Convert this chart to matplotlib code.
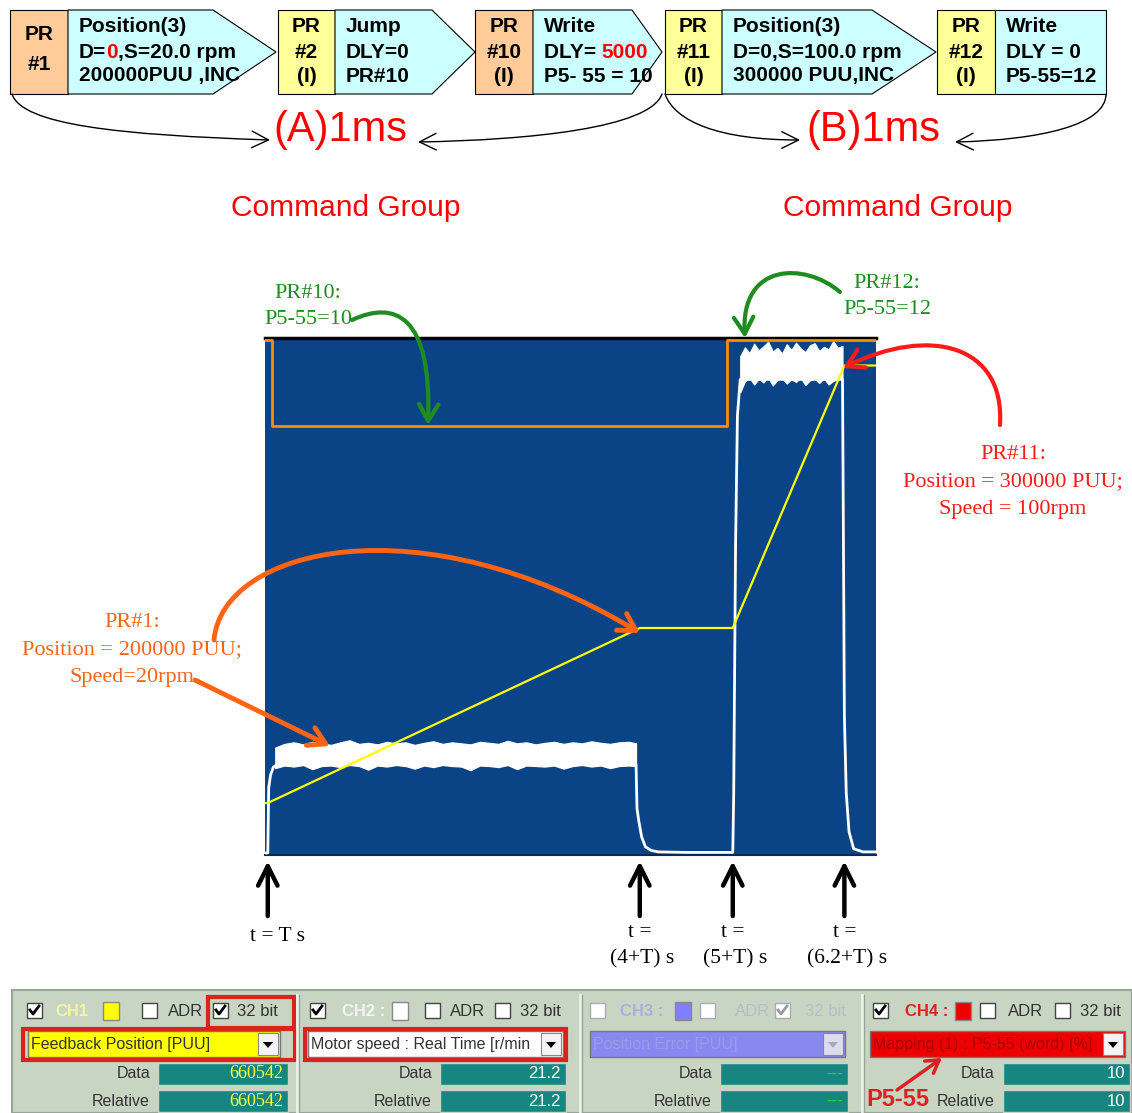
import numpy as np
import matplotlib.pyplot as plt
from matplotlib.patches import FancyArrowPatch, Rectangle, Polygon
from matplotlib.path import Path

# 図の大きさ (px)
W, H = 1132, 1113

# 上段のPRブロック
pr_labels = [["PR", "#1"], ["PR", "#2", "(I)"], ["PR", "#10", "(I)"], ["PR", "#11", "(I)"], ["PR", "#12", "(I)"]]
pr_colors = ["#ffcc99", "#ffff99", "#ffcc99", "#ffff99", "#ffff99"]
pr_texts = [
    [[("Position(3)", "k")], [("D=", "k"), ("0", "red"), (",S=20.0 rpm", "k")], [("200000PUU ,INC", "k")]],
    [[("Jump", "k")], [("DLY=0", "k")], [("PR#10", "k")]],
    [[("Write", "k")], [("DLY= ", "k"), ("5000", "red")], [("P5- 55 = 10", "k")]],
    [[("Position(3)", "k")], [("D=0,S=100.0 rpm", "k")], [("300000 PUU,INC", "k")]],
    [[("Write", "k")], [("DLY = 0", "k")], [("P5-55=12", "k")]],
]
# ブロックの位置 (左, 区切り, 斜め開始, 先端)
block_x = [(10, 68, 213, 276), (278, 335, 432, 475), (475, 533, 632, 662), (665, 722, 872, 936), (937, 995, 1106, 1106)]

# スコープのデータ (時間 s, T=0)
t_marks = [0.0, 4.0, 5.0, 6.2]
t_mark_labels = [["t = T s"], ["t =", "(4+T) s"], ["t =", "(5+T) s"], ["t =", "(6.2+T) s"]]

speed_t = [-0.03, 0.0, 0.01, 0.03, 0.06, 0.1, 3.96, 3.97, 3.99, 4.02, 4.06, 4.12, 4.2, 4.5,
           4.98, 5.0, 5.01, 5.03, 5.05, 5.08, 6.18, 6.19, 6.2, 6.22, 6.25, 6.3, 6.4, 6.54]
speed_v = [0.4, 0.4, 13.0, 15.5, 17.0, 17.5, 17.5, 9.0, 6.5, 3.5, 1.6, 0.9, 0.6, 0.5,
           0.5, 0.5, 12.0, 60.0, 85.0, 92.0, 92.0, 60.0, 27.0, 12.0, 4.5, 1.2, 0.6, 0.6]

band1_t = [0.08, 0.18, 0.28, 0.38, 0.48, 0.58, 0.68, 0.78, 0.88, 0.98, 1.08, 1.18, 1.28, 1.38,
           1.48, 1.58, 1.68, 1.78, 1.88, 1.98, 2.08, 2.18, 2.28, 2.38, 2.48, 2.58, 2.68, 2.78,
           2.88, 2.98, 3.08, 3.18, 3.28, 3.38, 3.48, 3.58, 3.68, 3.78, 3.88, 3.96]
band1_hi = [20.8, 21.5, 21.8, 21.4, 21.9, 21.6, 21.3, 21.8, 22.2, 21.5, 21.7, 21.4, 21.9, 21.6,
            21.8, 21.3, 21.7, 22.0, 21.5, 21.8, 21.6, 21.4, 21.9, 21.7, 21.5, 22.1, 21.6, 21.8,
            21.4, 21.7, 21.9, 21.5, 21.8, 21.6, 22.0, 21.7, 21.5, 21.8, 21.9, 21.6]
band1_lo = [16.8, 17.3, 17.1, 17.4, 16.6, 17.2, 17.3, 17.0, 17.4, 17.2, 16.5, 17.3, 17.1, 17.4,
            17.2, 16.7, 17.3, 17.0, 17.4, 17.2, 17.1, 16.4, 17.3, 17.2, 17.0, 17.4, 16.6, 17.3,
            17.2, 17.1, 17.3, 16.7, 17.2, 17.4, 17.1, 17.3, 16.8, 17.2, 17.3, 17.2]

band2_t = [5.08, 5.13, 5.18, 5.23, 5.28, 5.33, 5.38, 5.43, 5.48, 5.53, 5.58, 5.63, 5.68, 5.73,
           5.78, 5.83, 5.88, 5.93, 5.98, 6.03, 6.08, 6.13, 6.18]
band2_hi = [96.5, 98.2, 97.1, 98.9, 97.6, 98.4, 99.3, 97.4, 98.1, 97.0, 98.8, 97.7, 99.1, 98.0,
            97.3, 98.6, 99.0, 97.5, 98.3, 97.8, 99.4, 98.1, 98.5]
band2_lo = [89.5, 91.6, 92.3, 91.0, 92.1, 91.4, 92.4, 90.8, 91.9, 92.2, 91.2, 92.0, 91.5, 92.3,
            90.9, 91.8, 92.1, 91.3, 92.2, 91.0, 91.7, 92.0, 92.3]

pos_t = [-0.03, 0.0, 4.0, 5.0, 6.2, 6.54]
pos_v = [160542, 160542, 360542, 360542, 660542, 660542]

p555_t = [-0.03, 0.04, 4.94, 6.54]
p555_v = [12, 10, 12, 12]

# 下段のチャンネルパネル
ch_names = ["CH1", "CH2 :", "CH3 :", "CH4 :"]
ch_sources = ["Feedback Position [PUU]", "Motor speed : Real Time [r/min", "Position Error [PUU]",
              "Mapping (1) : P5-55 (word) [%]"]
ch_data = ["660542", "21.2", "---", "10"]
ch_relative = ["660542", "21.2", "---", "10"]

SANS = "Liberation Sans"
SERIF = "Liberation Serif"

fig = plt.figure(figsize=(W / 100, H / 100), dpi=100)
fig.patch.set_facecolor("white")

# スコープ
L, R, TOP, BOT = 265, 876, 338, 855
ax = fig.add_axes([L / W, 1 - BOT / H, (R - L) / W, (BOT - TOP) / H])
ax.set_facecolor("#0a4486")
ax.set_xlim(-0.03, 6.54)
ax.set_ylim(0, 100)
ax.set_xticks([])
ax.set_yticks([])
for s in ["left", "right"]:
    ax.spines[s].set_visible(False)
ax.spines["top"].set_color("black")
ax.spines["top"].set_linewidth(2.5)
ax.spines["bottom"].set_color("#0a2a55")
ax.spines["bottom"].set_linewidth(1.5)

ax.fill_between(band1_t, band1_lo, band1_hi, color="white", lw=0.8, zorder=3)
ax.fill_between(band2_t, band2_lo, band2_hi, color="white", lw=0.8, zorder=3)
ax.plot(speed_t, speed_v, color="white", lw=2, zorder=3)

ax_pos = ax.twinx()
ax_pos.set_ylim(101113, 691971)
ax_pos.plot(pos_t, pos_v, color="#ffff00", lw=1.6, zorder=4)
ax_pos.axis("off")

ax_p = ax.twinx()
ax_p.set_ylim(0, 12.05)
ax_p.plot(p555_t, p555_v, color="#ff8c00", lw=2, drawstyle="steps-post", zorder=2)
ax_p.axis("off")

# 時間マーカー
for t, lab in zip(t_marks, t_mark_labels):
    ax.annotate("", xy=(t, -0.012), xytext=(t, -0.118), xycoords=ax.get_xaxis_transform(),
                textcoords=ax.get_xaxis_transform(), annotation_clip=False,
                arrowprops=dict(arrowstyle="->,head_length=0.7,head_width=0.35", lw=3.2, color="black",
                                shrinkA=0, shrinkB=0, mutation_scale=20))
    if len(lab) == 1:
        ax.text(t + 0.1, -0.158, lab[0], transform=ax.get_xaxis_transform(), ha="center", va="center",
                fontsize=15.5, family=SERIF)
    else:
        ax.text(t, -0.149, lab[0], transform=ax.get_xaxis_transform(), ha="center", va="center",
                fontsize=15.5, family=SERIF)
        ax.text(t + 0.03, -0.2, lab[1], transform=ax.get_xaxis_transform(), ha="center", va="center",
                fontsize=15.5, family=SERIF)

# 重ね描き用の座標 (px)
ov = fig.add_axes([0, 0, 1, 1], zorder=10)
ov.set_xlim(0, W)
ov.set_ylim(H, 0)
ov.axis("off")
ov.patch.set_alpha(0)


def bez(pts, color, lw, head="->,head_length=0.6,head_width=0.35", ms=20):
    # 3次ベジェ曲線の矢印
    path = Path(pts, [Path.MOVETO, Path.CURVE4, Path.CURVE4, Path.CURVE4])
    ov.add_patch(FancyArrowPatch(path=path, arrowstyle=head, color=color, lw=lw, mutation_scale=ms,
                                 capstyle="round"))


def line_arrow(p0, p1, color, lw, head="->,head_length=0.6,head_width=0.35", ms=20):
    ov.add_patch(FancyArrowPatch(p0, p1, arrowstyle=head, color=color, lw=lw, mutation_scale=ms,
                                 shrinkA=0, shrinkB=0))


# PRブロック
for (x0, x1, x2, x3), labs, col, lines in zip(block_x, pr_labels, pr_colors, pr_texts):
    ov.add_patch(Rectangle((x0, 10), x1 - x0, 84, fc=col, ec="black", lw=0.8))
    if x3 > x2:
        ov.add_patch(Polygon([(x1, 10), (x2, 10), (x3, 52), (x2, 94), (x1, 94)], fc="#ccffff", ec="black", lw=0.8))
    else:
        ov.add_patch(Rectangle((x1, 10), x3 - x1, 84, fc="#ccffff", ec="black", lw=0.8))
    ys = [35, 64] if len(labs) == 2 else [27, 52, 77]
    for lab, y in zip(labs, ys):
        ov.text((x0 + x1) / 2, y, lab, ha="center", va="center", fontsize=15, weight="bold", family=SANS)
    for line, y in zip(lines, [27, 52, 76]):
        prev = None
        for piece, c in line:
            if prev is None:
                prev = ov.text(x1 + 11, y, piece, ha="left", va="center", fontsize=15, weight="bold",
                               family=SANS, color=c)
            else:
                prev = ov.annotate(piece, xy=(1, 0), xycoords=prev, ha="left", va="bottom", fontsize=15,
                                   weight="bold", family=SANS, color=c)

# 1ms の矢印
thin = "->,head_length=0.8,head_width=0.4"
bez([(12, 94), (22, 125), (120, 135), (270, 140)], "black", 1, thin, 15)
bez([(662, 94), (650, 128), (530, 140), (418, 142)], "black", 1, thin, 15)
bez([(665, 94), (675, 122), (720, 140), (800, 140)], "black", 1, thin, 15)
bez([(1106, 94), (1106, 125), (1040, 140), (955, 142)], "black", 1, thin, 15)
ov.text(340, 130, "(A)1ms", ha="center", va="center", fontsize=30, color="red", family=SANS)
ov.text(873, 130, "(B)1ms", ha="center", va="center", fontsize=30, color="red", family=SANS)
ov.text(346, 208, "Command Group", ha="center", va="center", fontsize=21.5, color="red", family=SANS)
ov.text(898, 208, "Command Group", ha="center", va="center", fontsize=21.5, color="red", family=SANS)

# 注記
GREEN, ORANGE, RED = "#1e8c1e", "#ff6414", "#ff1a1a"
ov.text(308, 306, "PR#10:\nP5-55=10", ha="center", va="center", ma="center", fontsize=16, family=SERIF,
        color=GREEN, linespacing=1.5)
ov.text(887, 296, "PR#12:\nP5-55=12", ha="center", va="center", ma="center", fontsize=16, family=SERIF,
        color=GREEN, linespacing=1.5)
ov.text(1013, 482, "PR#11:\nPosition = 300000 PUU;\nSpeed = 100rpm", ha="center", va="center", ma="center",
        fontsize=16, family=SERIF, color=RED, linespacing=1.6)
ov.text(132, 650, "PR#1:\nPosition = 200000 PUU;\nSpeed=20rpm", ha="center", va="center", ma="center",
        fontsize=16, family=SERIF, color=ORANGE, linespacing=1.6)

bez([(352, 320), (395, 300), (432, 315), (428, 425)], GREEN, 3)
bez([(840, 292), (805, 262), (740, 262), (745, 338)], GREEN, 3)
bez([(1000, 425), (1005, 345), (930, 325), (843, 368)], RED, 3)
bez([(214, 640), (222, 548), (420, 500), (640, 633)], ORANGE, 3.5)
line_arrow((195, 680), (330, 746), ORANGE, 3.5)

# 下段パネル
ov.add_patch(Rectangle((12, 990), W - 12, H - 990, fc="#c9d5c3", ec="#9aa59a", lw=1.5))
for x in [297, 580, 862]:
    ov.plot([x, x], [995, H], color="#eef2ec", lw=2)
    ov.plot([x + 2, x + 2], [995, H], color="#98a498", lw=1)


def checkbox(x, y, checked, faded=False):
    ov.add_patch(Rectangle((x, y), 15, 15, fc="white", ec="#aab" if faded else "#444", lw=1))
    if checked:
        ov.plot([x + 3, x + 6, x + 12], [y + 7, y + 11, y + 3], color="#999" if faded else "black", lw=2)


# 各パネルの横位置: 枠1, 名前, 色, 枠2, ADR, 枠3, 32bit
row_x = [(27, 55, 103, 142, 168, 213, 237), (310, 342, 392, 425, 450, 495, 520),
         (590, 620, 675, 700, 735, 775, 805), (873, 905, 955, 980, 1008, 1055, 1080)]
drop_x = [(28, 280), (308, 563), (590, 845), (870, 1125)]
box_x = [(158, 288), (440, 566), (720, 848), (1003, 1130)]
name_col = ["#f4f4a0", "#f4f4f4", "#a8b0e0", "#dd2222"]
sq_col = ["#ffff00", "white", "#8080ff", "#ee0000"]
drop_col = ["#ffff00", "white", "#8888f0", "#ee0000"]
drop_tc = ["#333", "#333", "#9a9ae8", "#aa0000"]
val_col = ["#ffff33", "white", "#22dd22", "white"]
for i in range(4):
    faded = i == 2
    cb1, nm, sq, cb2, adr, cb3, bit = row_x[i]
    checkbox(cb1, 1003, i != 2, faded)
    ov.text(nm, 1011, ch_names[i], fontsize=12, weight="bold", family=SANS, color=name_col[i], va="center")
    ov.add_patch(Rectangle((sq, 1002), 16, 18, fc=sq_col[i], ec="#888", lw=1))
    checkbox(cb2, 1003, False, faded)
    ov.text(adr, 1011, "ADR", fontsize=12, family=SANS, va="center", color="#bbbbcc" if faded else "#333")
    checkbox(cb3, 1003, i == 0 or i == 2, faded)
    ov.text(bit, 1011, "32 bit", fontsize=12, family=SANS, va="center", color="#bbbbcc" if faded else "#333")
    # ドロップダウン
    d0, d1 = drop_x[i]
    ov.add_patch(Rectangle((d0, 1031), d1 - d0, 26, fc=drop_col[i], ec="#777", lw=1))
    ov.add_patch(Rectangle((d1 - 22, 1033), 20, 22, fc="#f4f4f4" if i != 2 else "#dcdcf0", ec="#888", lw=0.8))
    ov.add_patch(Polygon([(d1 - 17, 1042), (d1 - 7, 1042), (d1 - 12, 1048)], fc="#aaa" if i == 2 else "black"))
    ov.text(d0 + 3, 1044, ch_sources[i], fontsize=11.5, family=SANS, va="center", color=drop_tc[i])
    # データ欄
    b0, b1 = box_x[i]
    for j, (lab, val) in enumerate(zip(["Data", "Relative"], [ch_data[i], ch_relative[i]])):
        yy = 1074 + j * 27
        ov.text(b0 - 8, yy, lab, ha="right", va="center", fontsize=11.5, family=SANS, color="#333")
        ov.add_patch(Rectangle((b0, yy - 11), b1 - b0, 22, fc="#178680", ec="#c9d5c3", lw=1))
        ov.text(b1 - 5, yy, val, ha="right", va="center", fontsize=13 if i == 0 else 12,
                family=SERIF if i == 0 else SANS, color=val_col[i])

# 赤枠
ov.add_patch(Rectangle((208, 997), 86, 31, fc="none", ec="#dd2020", lw=3))
ov.add_patch(Rectangle((23, 1029), 272, 31, fc="none", ec="#dd2020", lw=3))
ov.add_patch(Rectangle((305, 1029), 261, 31, fc="none", ec="#dd2020", lw=3))
line_arrow((897, 1090), (942, 1058), "#e02020", 2.5, "->,head_length=0.5,head_width=0.3", 18)
ov.text(866, 1099, "P5-55", fontsize=17, weight="bold", family=SANS, color="#e02020", va="center")

fig.savefig("out.png", dpi=100)
